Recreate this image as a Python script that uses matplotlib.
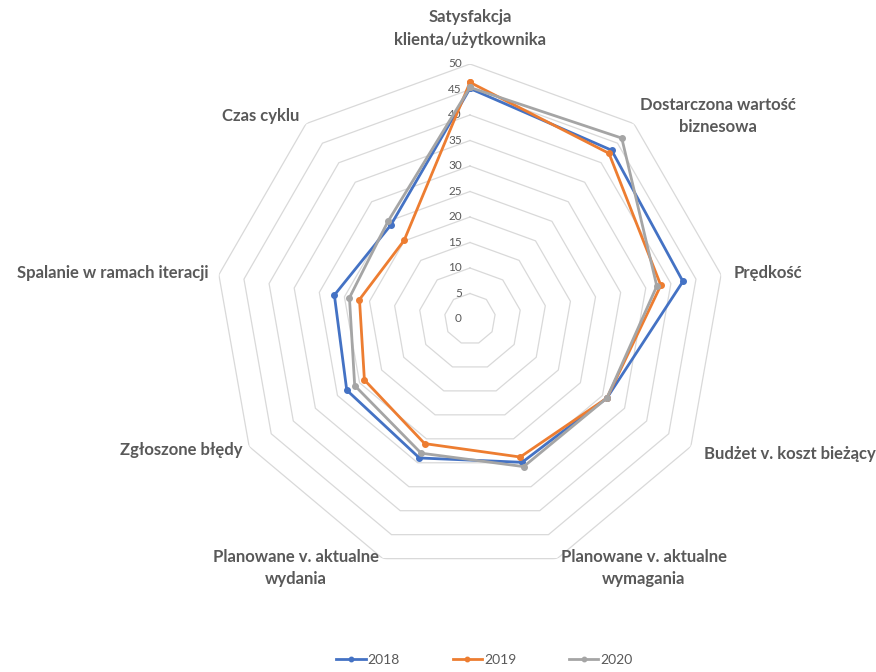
import numpy as np
import matplotlib.pyplot as plt
from matplotlib.transforms import offset_copy

plt.rcParams['font.family'] = ['Lato', 'DejaVu Sans']

# -------------------------
# Data
# -------------------------
categories = [
    "Satysfakcja\nklienta/użytkownika",
    "Dostarczona wartość\nbiznesowa",
    "Prędkość",
    "Budżet v. koszt bieżący",
    "Planowane v. aktualne\nwymagania",
    "Planowane v. aktualne\nwydania",
    "Zgłoszone błędy",
    "Spalanie w ramach iteracji",
    "Czas cyklu",
]
years = ["2018", "2019", "2020"]
vals_2018 = [45.2, 43.2, 42.4, 31.0, 29.9, 29.0, 27.9, 27.0, 24.1]
vals_2019 = [46.4, 42.4, 38.0, 31.0, 28.8, 26.0, 23.9, 22.0, 20.1]
vals_2020 = [45.4, 46.3, 37.2, 31.0, 30.8, 28.0, 26.1, 24.0, 25.0]
levels = [5, 10, 15, 20, 25, 30, 35, 40, 45, 50]

colors = ["#4472C4", "#ED7D31", "#A5A5A5"]
text_col = "#595959"

n = len(categories)
theta = np.arange(n) * 2 * np.pi / n
theta_closed = np.append(theta, theta[0])

fig = plt.figure(figsize=(8.76, 6.72), dpi=100)
ax = fig.add_axes([0.2454, 0.1458, 0.5822, 0.759], projection="polar")
ax.set_theta_zero_location("N")
ax.set_theta_direction(-1)
ax.set_ylim(0, 50)
ax.grid(False)
ax.spines["polar"].set_visible(False)
ax.set_xticks([])
ax.set_yticks([])
ax.patch.set_alpha(0)

# polygonal grid
for lv in levels:
    ax.plot(theta_closed, [lv] * (n + 1), color="#D9D9D9", lw=0.9, zorder=1)

# radial tick labels along the top axis, nudged left
tick_tr = offset_copy(ax.transData, fig=fig, x=-8, y=0, units="dots")
for lv in [0] + levels:
    ax.text(0, lv, str(lv), transform=tick_tr, fontsize=8.5, color=text_col,
            ha="right", va="center", zorder=2)

series = [vals_2018, vals_2019, vals_2020]
for yr, vals, c in zip(years, series, colors):
    v = np.append(vals, vals[0])
    ax.plot(theta_closed, v, color=c, lw=2.0, marker="o", markersize=4, label=yr, zorder=3)

# category labels
label_r = [57, 52, 52.5, 53, 52, 52, 51.5, 52, 52]
for i, (lab, th, r) in enumerate(zip(categories, theta, label_r)):
    deg = np.rad2deg(th)
    if i == 0:
        ha = "center"
    elif deg < 180:
        ha = "left"
    else:
        ha = "right"
    ax.text(th, r, lab, ha=ha, va="center", multialignment="center",
            fontsize=12, fontweight="bold", color=text_col, linespacing=1.5,
            clip_on=False)

leg = fig.legend(loc="center", bbox_to_anchor=(0.553, 0.018), ncol=3, frameon=False,
                 fontsize=10, handlelength=2.1, handletextpad=0.15, columnspacing=3.8,
                 labelcolor=text_col, markerscale=0.8, borderpad=0.2)

fig.savefig("out.png", dpi=100)
